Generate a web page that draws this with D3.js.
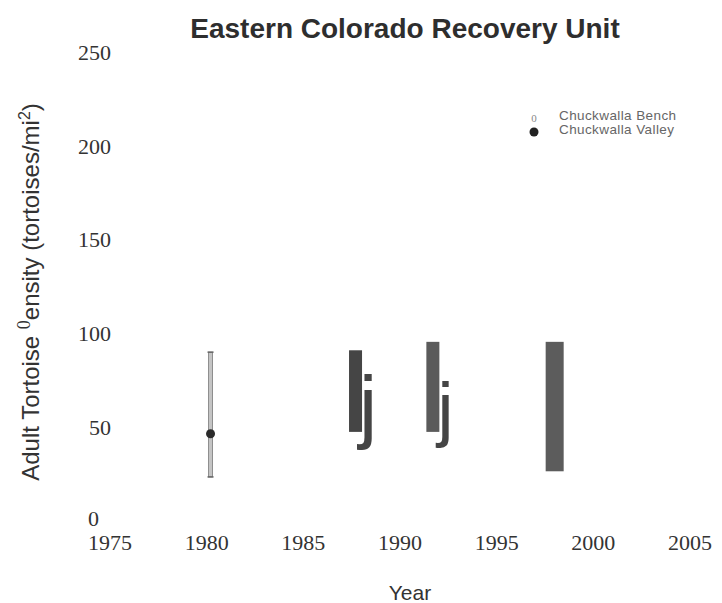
<!DOCTYPE html>
<html><head><meta charset="utf-8">
<script src="https://cdn.jsdelivr.net/npm/d3@7"></script>
<style>body{margin:0;background:#fff}</style>
</head><body>
<svg id="c" width="722" height="603"></svg>
<script>
const xTicks = [1975, 1980, 1985, 1990, 1995, 2000, 2005];
const yTicks = [0, 50, 100, 150, 200, 250];
// Chuckwalla Valley point with error bar
const valleyPoint = [{year: 1980.2, mean: 46.5, low: 23.5, high: 90}];
// range bars
const rangeBars = [
  {year: 1987.7, low: 47.5, high: 91, color: "#454545"},
  {year: 1991.7, low: 47.5, high: 95.5, color: "#5b5b5b"},
  {year: 1998.0, low: 26.5, high: 95.5, color: "#5c5c5c"}
];
// Chuckwalla Bench marks (rendered as glyphs)
const benchMarks = [
  {year: 1988.35, value: 47, size: 82},
  {year: 1992.35, value: 47, size: 72}
];

const svg = d3.select("#c");
const x = d3.scaleLinear().domain([1975, 2005]).range([110, 690]);
const y = d3.scaleLinear().domain([0, 250]).range([521, 52]);

svg.append("text").attr("x", 405).attr("y", 38).attr("text-anchor", "middle")
  .attr("font-family", "Liberation Sans, Arial, sans-serif").attr("font-weight", "bold")
  .attr("font-size", 28).attr("fill", "#2e2e2e").text("Eastern Colorado Recovery Unit");

// y tick labels
svg.append("g").selectAll("text").data(yTicks).join("text")
  .attr("x", d => d === 0 ? 99 : 111).attr("y", d => d === 0 ? y(d) - 3 : y(d)).attr("dy", "0.35em")
  .attr("text-anchor", "end").attr("font-family", "Liberation Serif, Times New Roman, serif")
  .attr("font-size", 22).attr("fill", "#333").text(d => d);

// x tick labels
svg.append("g").selectAll("text").data(xTicks).join("text")
  .attr("x", d => x(d)).attr("y", 550)
  .attr("text-anchor", "middle").attr("font-family", "Liberation Serif, Times New Roman, serif")
  .attr("font-size", 22).attr("fill", "#333").text(d => d);

svg.append("text").attr("x", 410).attr("y", 600).attr("text-anchor", "middle")
  .attr("font-family", "Liberation Sans, Arial, sans-serif").attr("font-size", 21)
  .attr("fill", "#333").text("Year");

// y label
const yl = svg.append("text").attr("transform", "translate(39,292) rotate(-90)")
  .attr("text-anchor", "middle").attr("font-family", "Liberation Sans, Arial, sans-serif")
  .attr("font-size", 24).attr("fill", "#333");
yl.append("tspan").text("Adult Tortoise ");
yl.append("tspan").attr("font-family", "Liberation Serif, serif").attr("font-size", 18).attr("dy", -9).text("0");
yl.append("tspan").attr("dy", 9).text("ensity (tortoises/mi");
yl.append("tspan").attr("font-size", 16).attr("dy", -9).text("2");
yl.append("tspan").attr("dy", 9).text(")");

// range bars
svg.append("g").selectAll("rect").data(rangeBars).join("rect")
  .attr("x", (d, i) => x(d.year) - (i === 2 ? 9 : 6.5))
  .attr("width", (d, i) => i === 2 ? 18 : 13)
  .attr("y", d => y(d.high)).attr("height", d => y(d.low) - y(d.high))
  .attr("fill", d => d.color);

// bench glyph marks
svg.append("g").selectAll("text").data(benchMarks).join("text")
  .attr("x", d => x(d.year)).attr("y", d => y(d.value)).attr("text-anchor", "middle")
  .attr("font-family", "Liberation Sans, Arial, sans-serif").attr("font-size", d => d.size)
  .attr("fill", "#454545").text("j");

// valley error bar
const vg = svg.append("g");
valleyPoint.forEach(d => {
  vg.append("rect").attr("x", x(d.year) - 2).attr("width", 4)
    .attr("y", y(d.high)).attr("height", y(d.low) - y(d.high))
    .attr("fill", "#c4c4c4").attr("stroke", "#7a7a7a").attr("stroke-width", 0.8);
  [d.high, d.low].forEach(v => vg.append("line").attr("x1", x(d.year) - 3).attr("x2", x(d.year) + 3)
    .attr("y1", y(v)).attr("y2", y(v)).attr("stroke", "#666").attr("stroke-width", 1.5));
  vg.append("circle").attr("cx", x(d.year)).attr("cy", y(d.mean)).attr("r", 4.5).attr("fill", "#2a2a2a");
});

// legend
svg.append("text").attr("x", 534).attr("y", 122).attr("text-anchor", "middle")
  .attr("font-family", "Liberation Serif, serif").attr("font-size", 11).attr("fill", "#888").text("0");
svg.append("circle").attr("cx", 534).attr("cy", 132).attr("r", 4.5).attr("fill", "#222");
svg.append("text").attr("x", 559).attr("y", 120).attr("font-family", "Liberation Sans, Arial, sans-serif")
  .attr("font-size", 13.5).attr("fill", "#666").attr("letter-spacing", "0.4").text("Chuckwalla Bench");
svg.append("text").attr("x", 559).attr("y", 134).attr("font-family", "Liberation Sans, Arial, sans-serif")
  .attr("font-size", 13.5).attr("fill", "#666").attr("letter-spacing", "0.4").text("Chuckwalla Valley");
</script>
</body></html>
